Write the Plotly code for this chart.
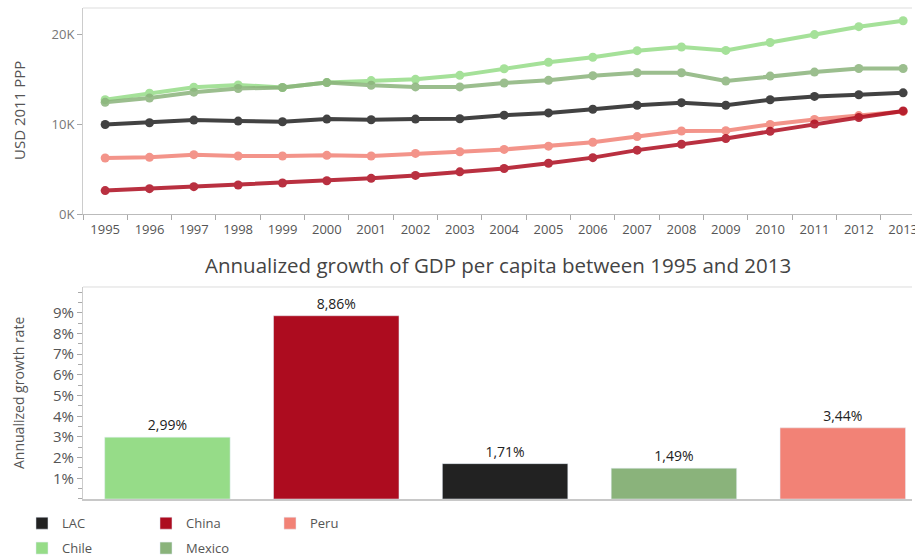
import plotly.graph_objects as go

# GDP per capita, USD 2011 PPP
years = [str(y) for y in range(1995, 2014)]
lac = [10000, 10190, 10485, 10375, 10300, 10595, 10520, 10595, 10630, 11035,
       11290, 11700, 12140, 12430, 12140, 12760, 13130, 13310, 13530]
china = [2613, 2833, 3054, 3241, 3462, 3716, 3980, 4311, 4708, 5083,
         5667, 6295, 7133, 7795, 8423, 9228, 10044, 10772, 11510]
peru = [6251, 6329, 6626, 6472, 6472, 6549, 6472, 6770, 6957, 7210,
        7574, 8015, 8644, 9272, 9305, 10000, 10551, 10992, 11433]
chile = [12756, 13495, 14157, 14410, 14123, 14675, 14895, 15039, 15480, 16218,
         16946, 17497, 18236, 18644, 18269, 19151, 20033, 20915, 21577]
mexico = [12470, 12944, 13605, 14013, 14123, 14675, 14377, 14190, 14190, 14631,
          14928, 15446, 15777, 15777, 14851, 15402, 15843, 16251, 16251]

# annualized growth 1995-2013 (%)
countries = ["Chile", "China", "LAC", "Mexico", "Peru"]
growth = [2.99, 8.86, 1.71, 1.49, 3.44]

colors = {"LAC": "#222222", "China": "#AD0C1F", "Peru": "#F28276",
          "Chile": "#96DC88", "Mexico": "#8AB37B"}
series = {"Chile": chile, "Mexico": mexico, "LAC": lac, "Peru": peru, "China": china}
legend_of = {"LAC": ("legend", 1), "China": ("legend", 2), "Peru": ("legend", 3),
             "Chile": ("legend2", 1), "Mexico": ("legend2", 2)}

fig = go.Figure()

for name, vals in series.items():
    fig.add_trace(go.Scatter(
        x=years, y=vals, name=name, mode="lines+markers",
        line=dict(color=colors[name], width=4),
        marker=dict(size=9, color=colors[name]),
        opacity=0.85, showlegend=False,
        xaxis="x", yaxis="y"
    ))

for c, g in zip(countries, growth):
    leg, rank = legend_of[c]
    fig.add_trace(go.Bar(
        x=[c], y=[g], name=c, marker_color=colors[c],
        text=[f"{g:.2f}%".replace(".", ",")], textposition="outside",
        textfont=dict(size=14, color="#222"), cliponaxis=False,
        legend=leg, legendrank=rank,
        xaxis="x2", yaxis="y2"
    ))

grey = "#555555"
fig.update_layout(
    width=915, height=559,
    margin=dict(l=83, r=3, t=8, b=60, autoexpand=False),
    paper_bgcolor="white", plot_bgcolor="white",
    font=dict(family="Open Sans", color=grey, size=13),
    barmode="overlay", bargap=0.257,
    showlegend=True,
    xaxis=dict(
        type="category", range=[-0.5, 18.2], domain=[0, 1], anchor="y",
        tickson="boundaries", ticks="outside", ticklen=5, tickcolor="#aaa",
        ticklabelstandoff=3,
        showline=True, linecolor="#bbbbbb", linewidth=1, showgrid=False,
        tickfont=dict(size=13, color=grey), automargin=False
    ),
    yaxis=dict(
        domain=[0.5804, 1.0], anchor="x", range=[0, 23000],
        tickvals=[0, 10000, 20000], ticktext=["0K", "10K", "20K"],
        ticks="outside", ticklen=5, tickcolor="#aaa",
        showline=True, linecolor="#cccccc", showgrid=False, zeroline=False,
        tickfont=dict(size=13, color="#777"), automargin=False
    ),
    xaxis2=dict(
        type="category", range=[-0.5, 4.41], domain=[0, 1], anchor="y2",
        showticklabels=False, ticks="",
        showline=True, linecolor="#c8c8c8", linewidth=2, showgrid=False
    ),
    yaxis2=dict(
        domain=[0, 0.4318], anchor="x2", range=[0, 10.25],
        tickvals=list(range(1, 10)), ticktext=[f"{i}%" for i in range(1, 10)],
        ticks="outside", ticklen=5, tickcolor="#aaa",
        minor=dict(dtick=0.5, tick0=0, ticks="outside", ticklen=4, tickcolor="#aaa"),
        showline=True, linecolor="#cccccc", showgrid=False, zeroline=False,
        tickfont=dict(size=15, color=grey), automargin=False
    ),
    legend=dict(
        orientation="h", x=-0.0736, xanchor="left", y=-0.0188, yanchor="top",
        entrywidth=79, font=dict(size=13, color=grey), bgcolor="rgba(0,0,0,0)"
    ),
    legend2=dict(
        orientation="h", x=-0.0736, xanchor="left", y=-0.0695, yanchor="top",
        entrywidth=79, font=dict(size=13, color=grey), bgcolor="rgba(0,0,0,0)"
    ),
    annotations=[
        dict(text="Annualized growth of GDP per capita between 1995 and 2013",
             xref="paper", yref="paper", x=0.5, y=0.4318, yshift=6,
             xanchor="center", yanchor="bottom", showarrow=False,
             font=dict(size=20.5, color="#444")),
        dict(text="USD 2011 PPP", xref="paper", yref="y domain", x=0, y=0.5,
             xshift=-64, textangle=-90, showarrow=False,
             xanchor="center", yanchor="middle", font=dict(size=15, color=grey)),
        dict(text="Annualized growth rate", xref="paper", yref="y2 domain", x=0, y=0.5,
             xshift=-64, textangle=-90, showarrow=False,
             xanchor="center", yanchor="middle", font=dict(size=14, color=grey)),
    ],
    shapes=[
        dict(type="line", xref="x domain", yref="y domain", x0=0, x1=1, y0=1, y1=1,
             line=dict(color="#dddddd", width=1)),
        dict(type="line", xref="x2 domain", yref="y2 domain", x0=0, x1=1, y0=1, y1=1,
             line=dict(color="#dddddd", width=1)),
    ]
)

# drop the default 8px page margin so the figure sits at the window's corner
fig.write_html("out.html", config={"displayModeBar": False},
               post_script="document.body.style.margin='0';")
